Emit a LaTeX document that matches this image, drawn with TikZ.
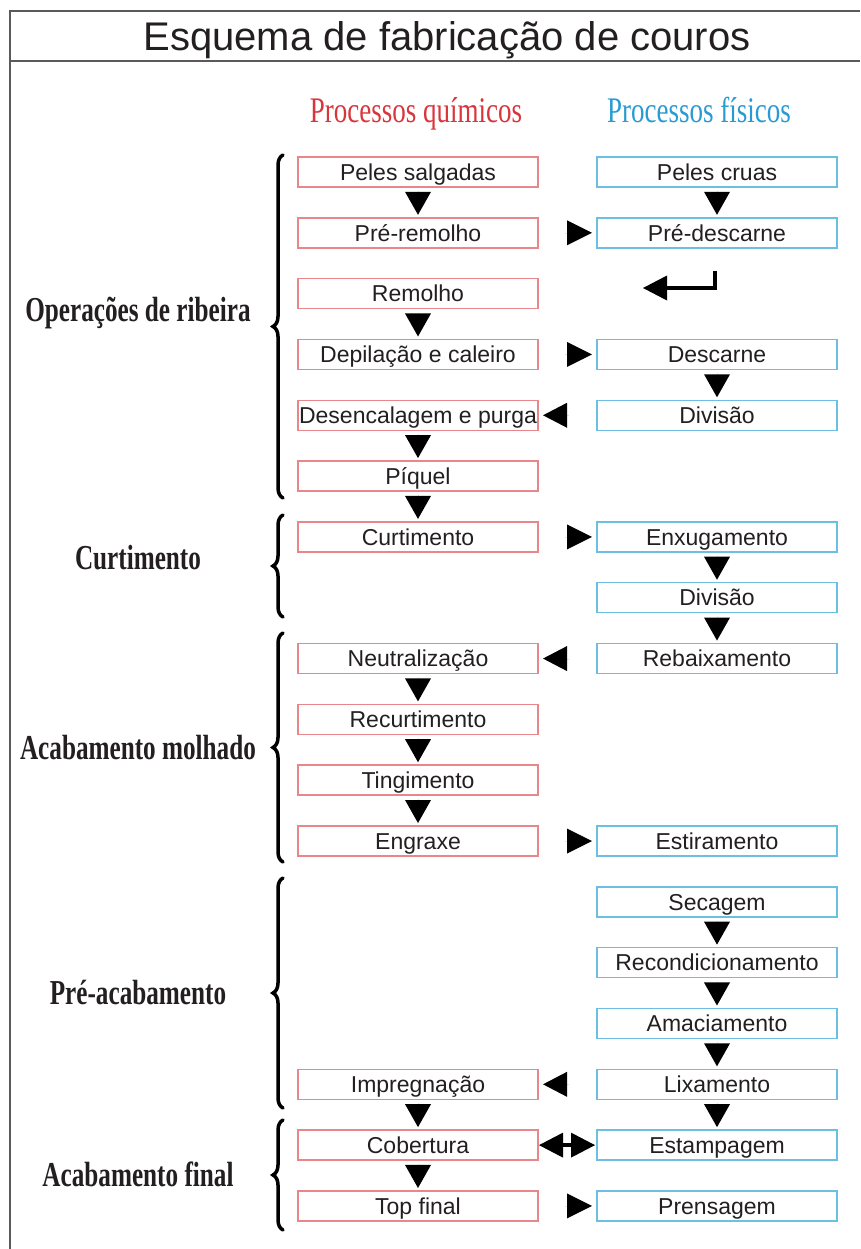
\documentclass[tikz,border=0pt]{standalone}
\usepackage{fontspec}
\setmainfont{Liberation Sans}
\newfontfamily\etapafont[FakeStretch=0.72]{Liberation Serif}
\newfontfamily\cabecfont[FakeStretch=0.75]{Liberation Serif}
\usetikzlibrary{arrows.meta,calc,positioning,decorations.pathreplacing}
\definecolor{Tinta}{HTML}{231F20}
\definecolor{Rosa}{HTML}{E8868A}
\definecolor{Celeste}{HTML}{6CBFE3}
\definecolor{Vermelho}{HTML}{D8353C}
\definecolor{Azul}{HTML}{2A9AD3}
\definecolor{Moldura}{HTML}{5A5A5A}
\tikzset{
  caixa/.style={draw,line width=1.5pt,minimum width=240pt,minimum height=30pt,inner sep=0pt,outer sep=0pt,
    text height=16.5pt,text depth=0pt,font=\fontsize{23}{26}\selectfont,text=Tinta},
  quim/.style={caixa,draw=Rosa},
  fis/.style={caixa,draw=Celeste},
  setaB/.style={-{Triangle[length=23pt,width=26pt,line width=0pt]},line width=0.01pt,shorten <=4pt,shorten >=3pt},
  setaD/.style={-{Triangle[length=25pt,width=25pt,line width=0pt]},line width=0.01pt,shorten <=27pt,shorten >=5pt},
  setaE/.style={-{Triangle[length=24pt,width=25pt,line width=0pt]},line width=0.01pt,shorten <=28pt,shorten >=5pt},
  setaDupla/.style={{Triangle[length=24pt,width=25pt,line width=0pt]}-{Triangle[length=24pt,width=25pt,line width=0pt]},
    line width=4pt,shorten <=1pt,shorten >=2pt},
  chave/.style={decorate,decoration={brace,amplitude=10pt},line width=3.5pt,line cap=round},
  etapa/.style={font=\etapafont\bfseries\fontsize{35}{38}\selectfont,text height=23pt,text depth=0pt,inner sep=0pt,text=Tinta},
  cabec/.style={font=\cabecfont\fontsize{36}{40}\selectfont,text height=23.8pt,text depth=0pt,inner sep=0pt},
}
\begin{document}
\begin{tikzpicture}[x=1pt,y=-1pt,node distance=30.82pt and 59pt]
  \useasboundingbox (0,0) rectangle (860,1249);
  % moldura e titulo
  \draw[Moldura,line width=1.5pt] (10,1249) -- (10,11) -- (860,11);
  \draw[Moldura,line width=2.5pt] (10,61) -- (860,61);
  \node[text=Tinta,font=\fontsize{40}{44}\selectfont,text height=28.6pt,text depth=0pt,inner sep=0pt] (titulo) at (447,36) {Esquema de fabricação de couros};
  \node[cabec,text=Vermelho] (hquim) at (416,111) {Processos químicos};
  \node[cabec,text=Azul] (hfis) at (699,111) {Processos físicos};

  % processos quimicos
  \node[quim] (salg) at (418,172) {Peles salgadas};
  \node[quim,below=of salg] (preR) {Pré-remolho};
  \node[quim,below=of preR] (remo) {Remolho};
  \node[quim,below=of remo] (depi) {Depilação e caleiro};
  \node[quim,below=of depi] (dese) {Desencalagem e purga};
  \node[quim,below=of dese] (piqu) {Píquel};
  \node[quim,below=of piqu] (curt) {Curtimento};
  \node[quim,below=91.64pt of curt] (neut) {Neutralização};
  \node[quim,below=of neut] (recu) {Recurtimento};
  \node[quim,below=of recu] (ting) {Tingimento};
  \node[quim,below=of ting] (engr) {Engraxe};

  % processos fisicos
  \node[fis,right=of salg] (crua) {Peles cruas};
  \node[fis,right=of preR] (preD) {Pré-descarne};
  \node[fis,right=of depi] (desc) {Descarne};
  \node[fis,right=of dese] (divA) {Divisão};
  \node[fis,right=of curt] (enxu) {Enxugamento};
  \node[fis,below=of enxu] (divB) {Divisão};
  \node[fis,right=of neut] (reba) {Rebaixamento};
  \node[fis,right=of engr] (esti) {Estiramento};
  \node[fis,below=of esti] (seca) {Secagem};
  \node[fis,below=of seca] (reco) {Recondicionamento};
  \node[fis,below=of reco] (amac) {Amaciamento};
  \node[fis,below=of amac] (lixa) {Lixamento};
  \node[fis,below=of lixa] (esta) {Estampagem};
  \node[fis,below=of esta] (pren) {Prensagem};

  \node[quim,left=of lixa] (impr) {Impregnação};
  \node[quim,below=of impr] (cobe) {Cobertura};
  \node[quim,below=of cobe] (topf) {Top final};

  % setas
  \draw[setaB] (salg) -- (preR);
  \draw[setaB] (remo) -- (depi);
  \draw[setaB] (dese) -- (piqu);
  \draw[setaB] (piqu) -- (curt);
  \draw[setaB] (neut) -- (recu);
  \draw[setaB] (recu) -- (ting);
  \draw[setaB] (ting) -- (engr);
  \draw[setaB] (impr) -- (cobe);
  \draw[setaB] (cobe) -- (topf);
  \draw[setaB] (crua) -- (preD);
  \draw[setaB] (desc) -- (divA);
  \draw[setaB] (enxu) -- (divB);
  \draw[setaB] (divB) -- (reba);
  \draw[setaB] (seca) -- (reco);
  \draw[setaB] (reco) -- (amac);
  \draw[setaB] (amac) -- (lixa);
  \draw[setaB] (lixa) -- (esta);
  \draw[setaD] (preR) -- (preD);
  \draw[setaD] (depi) -- (desc);
  \draw[setaD] (curt) -- (enxu);
  \draw[setaD] (engr) -- (esti);
  \draw[setaD] (topf) -- (pren);
  \draw[setaE] (divA) -- (dese);
  \draw[setaE] (reba) -- (neut);
  \draw[setaE] (lixa) -- (impr);
  \draw[setaDupla] (cobe) -- (esta);
  \coordinate (ganchoA) at (715,271);
  \coordinate (ganchoB) at (643,288);
  \draw[line width=4pt,-{Triangle[length=24pt,width=25pt,line width=0pt]}] (ganchoA) |- (ganchoB);

  % chaves e etapas
  \foreach \cima/\baixo/\ty/\txt [count=\i] in {155/498/310/{Operações de ribeira},515/617/558/Curtimento,
      633/862/748/{Acabamento molhado},878/1108/993/Pré-acabamento,1120/1230/1175/{Acabamento final}}{
    \draw[chave] (283,\baixo) -- (283,\cima);
    \node[etapa] (etapa\i) at (138,\ty) {\txt};
  }
\end{tikzpicture}
\end{document}
